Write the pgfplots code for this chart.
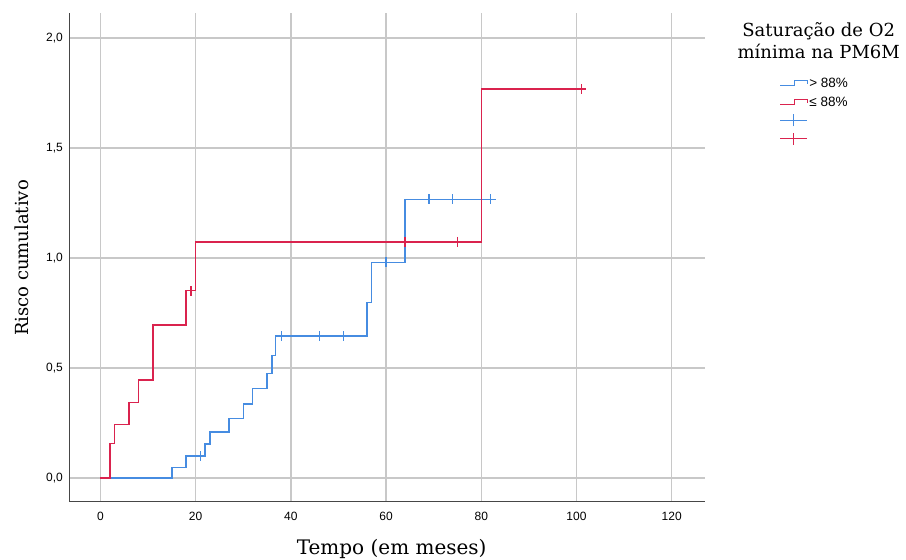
\documentclass[border=0pt]{standalone}
\usepackage{fontspec}
\setmainfont{Liberation Sans}
\newfontfamily\serif{DejaVu Serif}
\usepackage{pgfplots}
\pgfplotsset{compat=1.18}
\definecolor{kmblue}{RGB}{70,140,225}
\definecolor{kmred}{RGB}{218,35,78}
\definecolor{gridgray}{RGB}{200,200,200}
\definecolor{axisgray}{RGB}{70,70,70}
\begin{document}
\begin{tikzpicture}
\path[use as bounding box] (0,0) rectangle (906pt,560pt);
\begin{axis}[
  at={(69.5pt,58pt)}, anchor=south west,
  scale only axis, width=635.5pt, height=489pt,
  xmin=-6.5, xmax=127, ymin=-0.109, ymax=2.1136,
  axis lines*=left,
  axis line style={axisgray, line width=1pt},
  every inner x axis line/.append style={-}, every inner y axis line/.append style={-},
  xtick={0,20,...,120}, ytick={0,0.5,1,1.5,2},
  major tick length=0pt,
  grid=major,
  major grid style={gridgray, line width=1.5pt},
  clip=false,
  /pgf/number format/assume math mode=true,
  ticklabel style={font=\fontsize{12}{14}\selectfont},
  yticklabel={\pgfmathprintnumber[fixed,fixed zerofill,precision=1,use comma]{\tick}},
  xticklabel style={anchor=center, yshift=-14pt},
  yticklabel style={anchor=east, inner sep=0pt, xshift=-6.5pt},
  xlabel={\serif\fontsize{20}{24}\selectfont Tempo (em meses)},
  xlabel style={at={(axis description cs:0.507,-0.096)}, anchor=center},
  ylabel={\serif\fontsize{18}{22}\selectfont Risco cumulativo},
  ylabel style={at={(axis description cs:-0.0755,0.499)}, anchor=center, rotate=0},
  legend style={draw=none, fill=none, at={(1.117,0.872)}, anchor=north west,
    font=\fontsize{13.5}{15}\selectfont, row sep=3.5pt, inner sep=0pt,
    cells={anchor=west}, nodes={inner sep=1.5pt, xshift=3pt}},
]
% > 88%
\addplot[const plot, kmblue, line width=1.4pt,
  legend image code/.code={\draw[kmblue, line width=1.3pt] (0pt,-2.5pt) -- (14pt,-2.5pt) -- (14pt,2.5pt) -- (27pt,2.5pt) -- (27pt,-1pt);}]
coordinates {(0,0) (15,0.049) (18,0.10) (22,0.155) (23,0.209) (27,0.27) (30,0.336) (32,0.406) (35,0.476) (36,0.558) (36.8,0.645) (56,0.798) (57,0.98) (64,1.267) (82,1.267)};
\addlegendentry{\strut> 88\%}
% <= 88%
\addplot[const plot, kmred, line width=1.4pt,
  legend image code/.code={\draw[kmred, line width=1.3pt] (0pt,-2.5pt) -- (14pt,-2.5pt) -- (14pt,2.5pt) -- (27pt,2.5pt) -- (27pt,-1pt);}]
coordinates {(0,0) (2,0.157) (3,0.244) (6,0.343) (8,0.445) (11,0.695) (18,0.851) (20,1.073) (80,1.768) (101,1.768)};
\addlegendentry{\strut≤ 88\%}
% censored > 88%
\addplot[only marks, mark=+, mark size=5pt, kmblue, mark options={line width=1.3pt},
  legend image code/.code={\draw[kmblue, line width=1.3pt] (0pt,0pt) -- (27pt,0pt) (13.5pt,-6pt) -- (13.5pt,6pt);}]
coordinates {(21,0.10) (38,0.645) (46,0.645) (51,0.645) (60,0.98) (69,1.267) (74,1.267) (82,1.267)};
\addlegendentry{\strut}
% censored <= 88%
\addplot[only marks, mark=+, mark size=5pt, kmred, mark options={line width=1.3pt},
  legend image code/.code={\draw[kmred, line width=1.3pt] (0pt,0pt) -- (27pt,0pt) (13.5pt,-6pt) -- (13.5pt,6pt);}]
coordinates {(19,0.851) (64,1.073) (75,1.073) (101,1.768)};
\addlegendentry{\strut}
\node[align=center, font=\serif\fontsize{18}{22.5}\selectfont] at (rel axis cs:1.179,0.943) {Saturação de O2\\mínima na PM6M};
\end{axis}
\end{tikzpicture}
\end{document}
